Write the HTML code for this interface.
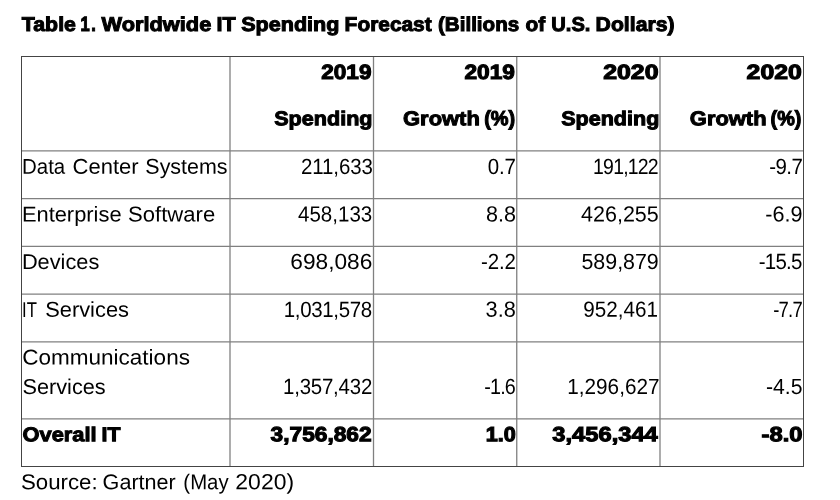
<!DOCTYPE html>
<html lang="en">
<head>
<meta charset="utf-8">
<title>Table 1. Worldwide IT Spending Forecast</title>
<style>
html,body{margin:0;padding:0;background:#fff;}
body{font-family:"Liberation Sans",Arial,Helvetica,sans-serif;color:#000;}
#page{width:840px;height:500px;position:relative;overflow:hidden;}
span.r,span.b{position:absolute;left:0;top:0;white-space:pre;display:block;transform-origin:0 0;text-rendering:geometricPrecision;}
span.r{font-size:22px;line-height:26px;font-weight:400;}
span.t{font-size:21.4px;}
span.b{font-size:20px;line-height:24px;font-weight:700;-webkit-text-stroke:1px #000;}
span.d{font-size:20.6px;-webkit-text-stroke-width:1.1px;}
h1,p,table,tr,th,td,thead,tbody{margin:0;padding:0;border:0;font:inherit;}
table{margin:56px 0 0 21px;width:783px;height:411px;border-collapse:collapse;}
svg{position:absolute;left:0;top:0;}
</style>
</head>
<body>
<div id="page">
<svg width="840" height="500" viewBox="0 0 840 500" aria-hidden="true">
<g stroke="#808080" stroke-width="1.3" fill="none">
<line x1="230" y1="57" x2="230" y2="466"/>
<line x1="373.5" y1="57" x2="373.5" y2="466"/>
<line x1="516.75" y1="57" x2="516.75" y2="466"/>
<line x1="660" y1="57" x2="660" y2="466"/>
<line x1="22" y1="150.95" x2="803" y2="150.95"/>
<line x1="22" y1="198.65" x2="803" y2="198.65"/>
<line x1="22" y1="246.4" x2="803" y2="246.4"/>
<line x1="22" y1="294.05" x2="803" y2="294.05"/>
<line x1="22" y1="341.95" x2="803" y2="341.95"/>
<line x1="22" y1="418.8" x2="803" y2="418.8"/>
</g>
<rect x="21.5" y="56.5" width="782" height="410" fill="none" stroke="#444444" stroke-width="1"/>
</svg>
<h1><span class="b" style="transform:translate(21.83px,13.00px) skewY(0.03deg) scaleX(1.0653)">Table</span> <span class="b d" style="letter-spacing:2.10px;transform:translate(80.41px,13.00px) skewY(0.03deg) scaleX(0.8000)">1.</span> <span class="b" style="transform:translate(101.54px,13.00px) skewY(0.03deg) scaleX(1.0894)">Worldwide</span> <span class="b" style="transform:translate(216.49px,13.00px) skewY(0.03deg) scaleX(1.0746)">IT</span> <span class="b" style="transform:translate(241.20px,13.00px) skewY(0.03deg) scaleX(1.0783)">Spending</span> <span class="b" style="transform:translate(344.62px,13.00px) skewY(0.03deg) scaleX(1.0443)">Forecast</span> <span class="b" style="transform:translate(437.95px,13.00px) skewY(0.03deg) scaleX(1.0302)">(Billions</span> <span class="b" style="transform:translate(525.57px,13.00px) skewY(0.03deg) scaleX(1.0428)">of</span> <span class="b" style="transform:translate(551.26px,13.00px) skewY(0.03deg) scaleX(1.0059)">U.S.</span> <span class="b" style="transform:translate(595.60px,13.00px) skewY(0.03deg) scaleX(1.0600)">Dollars)</span></h1>
<table>
<thead>
<tr><th></th><th><span class="b d" style="transform:translate(321.30px,61.00px) skewY(0.03deg) scaleX(1.0946)">2019</span> <span class="b" style="transform:translate(274.20px,107.30px) skewY(0.03deg) scaleX(1.0794)">Spending</span></th><th><span class="b d" style="transform:translate(464.50px,61.00px) skewY(0.03deg) scaleX(1.1012)">2019</span> <span class="b" style="transform:translate(403.06px,107.30px) skewY(0.03deg) scaleX(1.0966)">Growth</span> <span class="b d" style="transform:translate(484.20px,107.30px) skewY(0.03deg) scaleX(0.9673)">(%)</span></th><th><span class="b d" style="transform:translate(603.19px,61.00px) skewY(0.03deg) scaleX(1.2080)">2020</span> <span class="b" style="transform:translate(561.20px,107.30px) skewY(0.03deg) scaleX(1.0772)">Spending</span></th><th><span class="b d" style="transform:translate(746.59px,61.00px) skewY(0.03deg) scaleX(1.2036)">2020</span> <span class="b" style="transform:translate(689.86px,107.30px) skewY(0.03deg) scaleX(1.0951)">Growth</span> <span class="b d" style="transform:translate(770.60px,107.30px) skewY(0.03deg) scaleX(0.9610)">(%)</span></th></tr>
</thead>
<tbody>
<tr><td><span class="r t" style="transform:translate(22.00px,153.75px) skewY(0.03deg) scaleX(0.9572)">Data</span> <span class="r t" style="transform:translate(72.57px,153.75px) skewY(0.03deg) scaleX(1.0297)">Center</span> <span class="r t" style="transform:translate(145.33px,153.75px) skewY(0.03deg) scaleX(1.0024)">Systems</span></td><td><span class="r" style="letter-spacing:-0.12px;transform:translate(301.04px,153.75px) skewY(0.03deg) scaleX(0.9300)">211,633</span></td><td><span class="r" style="letter-spacing:-0.20px;transform:translate(487.76px,153.75px) skewY(0.03deg) scaleX(0.9300)">0.7</span></td><td><span class="r" style="letter-spacing:-0.90px;transform:translate(593.08px,153.75px) skewY(0.03deg) scaleX(0.8851)">191,122</span></td><td><span class="r" style="letter-spacing:-0.57px;transform:translate(769.16px,153.75px) skewY(0.03deg) scaleX(0.9300)">-9.7</span></td></tr>
<tr><td><span class="r t" style="transform:translate(21.89px,201.50px) skewY(0.03deg) scaleX(1.0222)">Enterprise</span> <span class="r t" style="transform:translate(128.11px,201.50px) skewY(0.03deg) scaleX(1.0312)">Software</span></td><td><span class="r" style="transform:translate(297.98px,201.50px) skewY(0.03deg) scaleX(0.9337)">458,133</span></td><td><span class="r" style="transform:translate(485.93px,201.50px) skewY(0.03deg) scaleX(0.9792)">8.8</span></td><td><span class="r" style="transform:translate(581.06px,201.50px) skewY(0.03deg) scaleX(0.9771)">426,255</span></td><td><span class="r" style="transform:translate(765.22px,201.50px) skewY(0.03deg) scaleX(0.9827)">-6.9</span></td></tr>
<tr><td><span class="r t" style="transform:translate(21.90px,249.00px) skewY(0.03deg) scaleX(1.0167)">Devices</span></td><td><span class="r" style="transform:translate(290.34px,249.00px) skewY(0.03deg) scaleX(1.0309)">698,086</span></td><td><span class="r" style="letter-spacing:-0.14px;transform:translate(480.96px,249.00px) skewY(0.03deg) scaleX(0.9300)">-2.2</span></td><td><span class="r" style="transform:translate(581.43px,249.00px) skewY(0.03deg) scaleX(0.9725)">589,879</span></td><td><span class="r" style="letter-spacing:-0.77px;transform:translate(758.66px,249.00px) skewY(0.03deg) scaleX(0.9300)">-15.5</span></td></tr>
<tr><td><span class="r t" style="letter-spacing:-0.06px;transform:translate(22.10px,296.75px) skewY(0.03deg) scaleX(0.7800)">IT</span> <span class="r t" style="transform:translate(45.22px,296.75px) skewY(0.03deg) scaleX(1.0208)">Services</span></td><td><span class="r" style="letter-spacing:-0.34px;transform:translate(283.72px,296.75px) skewY(0.03deg) scaleX(0.9300)">1,031,578</span></td><td><span class="r" style="transform:translate(485.62px,296.75px) skewY(0.03deg) scaleX(0.9895)">3.8</span></td><td><span class="r" style="transform:translate(583.33px,296.75px) skewY(0.03deg) scaleX(0.9381)">952,461</span></td><td><span class="r" style="letter-spacing:-0.90px;transform:translate(773.22px,296.75px) skewY(0.03deg) scaleX(0.8385)">-7.7</span></td></tr>
<tr><td><span class="r t" style="transform:translate(22.14px,344.50px) skewY(0.03deg) scaleX(1.0533)">Communications</span> <span class="r t" style="transform:translate(22.52px,374.00px) skewY(0.03deg) scaleX(1.0134)">Services</span></td><td><span class="r" style="letter-spacing:-0.24px;transform:translate(283.02px,374.00px) skewY(0.03deg) scaleX(0.9300)">1,357,432</span></td><td><span class="r" style="letter-spacing:-0.90px;transform:translate(484.18px,374.00px) skewY(0.03deg) scaleX(0.8980)">-1.6</span></td><td><span class="r" style="transform:translate(567.31px,374.00px) skewY(0.03deg) scaleX(0.9414)">1,296,627</span></td><td><span class="r" style="transform:translate(765.94px,374.00px) skewY(0.03deg) scaleX(0.9634)">-4.5</span></td></tr>
<tr><td><span class="b" style="transform:translate(22.46px,423.25px) skewY(0.03deg) scaleX(1.0938)">Overall</span> <span class="b" style="transform:translate(101.50px,423.25px) skewY(0.03deg) scaleX(1.0632)">IT</span></td><td><span class="b d" style="transform:translate(270.55px,423.25px) skewY(0.03deg) scaleX(1.1033)">3,756,862</span></td><td><span class="b d" style="transform:translate(485.83px,423.25px) skewY(0.03deg) scaleX(1.0502)">1.0</span></td><td><span class="b d" style="transform:translate(552.36px,423.25px) skewY(0.03deg) scaleX(1.1507)">3,456,344</span></td><td><span class="b d" style="transform:translate(761.59px,423.25px) skewY(0.03deg) scaleX(1.1532)">-8.0</span></td></tr>
</tbody>
</table>
<p><span class="r t" style="transform:translate(21.00px,469.25px) skewY(0.03deg) scaleX(1.0401)">Source:</span> <span class="r t" style="transform:translate(102.59px,469.25px) skewY(0.03deg) scaleX(1.0092)">Gartner</span> <span class="r t" style="transform:translate(183.35px,469.25px) skewY(0.03deg) scaleX(0.9516)">(May</span> <span class="r" style="transform:translate(235.32px,469.25px) skewY(0.03deg) scaleX(1.0444)">2020)</span></p>
</div>
</body>
</html>
